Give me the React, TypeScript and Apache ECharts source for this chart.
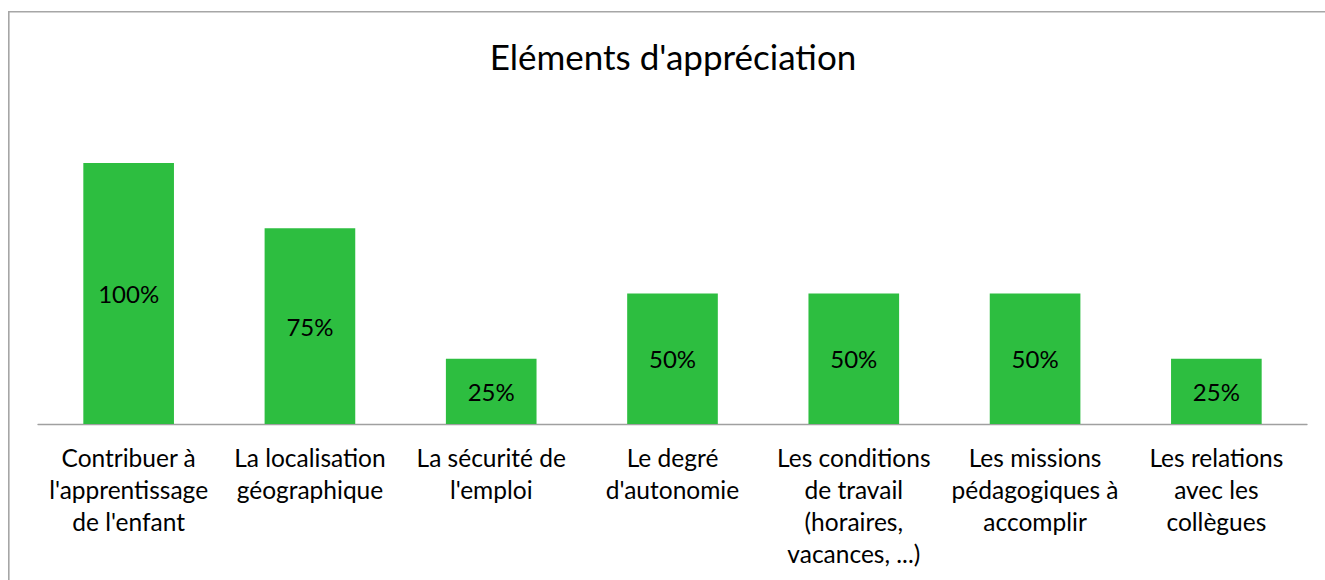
import React, { useEffect, useRef } from "react";
import * as echarts from "echarts";

const title = "Eléments d'appréciation";
const categories = [
  "Contribuer à\nl'apprentissage\nde l'enfant",
  "La localisation\ngéographique",
  "La sécurité de\nl'emploi",
  "Le degré\nd'autonomie",
  "Les conditions\nde travail\n(horaires,\nvacances, ...)",
  "Les missions\npédagogiques à\naccomplir",
  "Les relations\navec les\ncollègues",
];
const values = [100, 75, 25, 50, 50, 50, 25];

const FONT = "Lato, 'Liberation Sans', sans-serif";

export default function App() {
  const ref = useRef<HTMLDivElement>(null);
  useEffect(() => {
    if (!ref.current) return;
    const chart = echarts.init(ref.current, undefined, { renderer: "svg" });
    chart.setOption({
      animation: false,
      backgroundColor: "#ffffff",
      graphic: [
        {
          type: "rect",
          shape: { x: 8.8, y: 11.8, width: 1400, height: 700 },
          style: { fill: "none", stroke: "#a6a6a6", lineWidth: 1.6 },
          silent: true,
        },
        {
          type: "text",
          x: 673,
          y: 56,
          style: {
            text: title,
            fill: "#000000",
            font: `35px ${FONT}`,
            textAlign: "center",
            textVerticalAlign: "middle",
          },
        },
      ],
      grid: { left: 38, right: 18, top: 110.8, bottom: 156, containLabel: false },
      xAxis: {
        type: "category",
        data: categories,
        axisLine: { show: true, lineStyle: { color: "#a0a0a0", width: 1.3 } },
        axisTick: { show: false },
        axisLabel: {
          interval: 0,
          color: "#000000",
          fontFamily: FONT,
          fontSize: 24.5,
          lineHeight: 32,
          margin: 17,
          align: "center",
          verticalAlign: "top",
        },
      },
      yAxis: {
        type: "value",
        min: 0,
        max: 120,
        show: false,
        splitLine: { show: false },
      },
      series: [
        {
          type: "bar",
          data: values,
          barCategoryGap: "50%",
          itemStyle: { color: "#2dbe40" },
          label: {
            show: true,
            position: "inside",
            formatter: "{c}%",
            color: "#000000",
            fontFamily: FONT,
            fontSize: 24,
          },
        },
      ],
    });
    return () => chart.dispose();
  }, []);
  return (
    <div
      ref={ref}
      style={{ position: "absolute", left: 0, top: 0, width: 1325, height: 580 }}
    />
  );
}
